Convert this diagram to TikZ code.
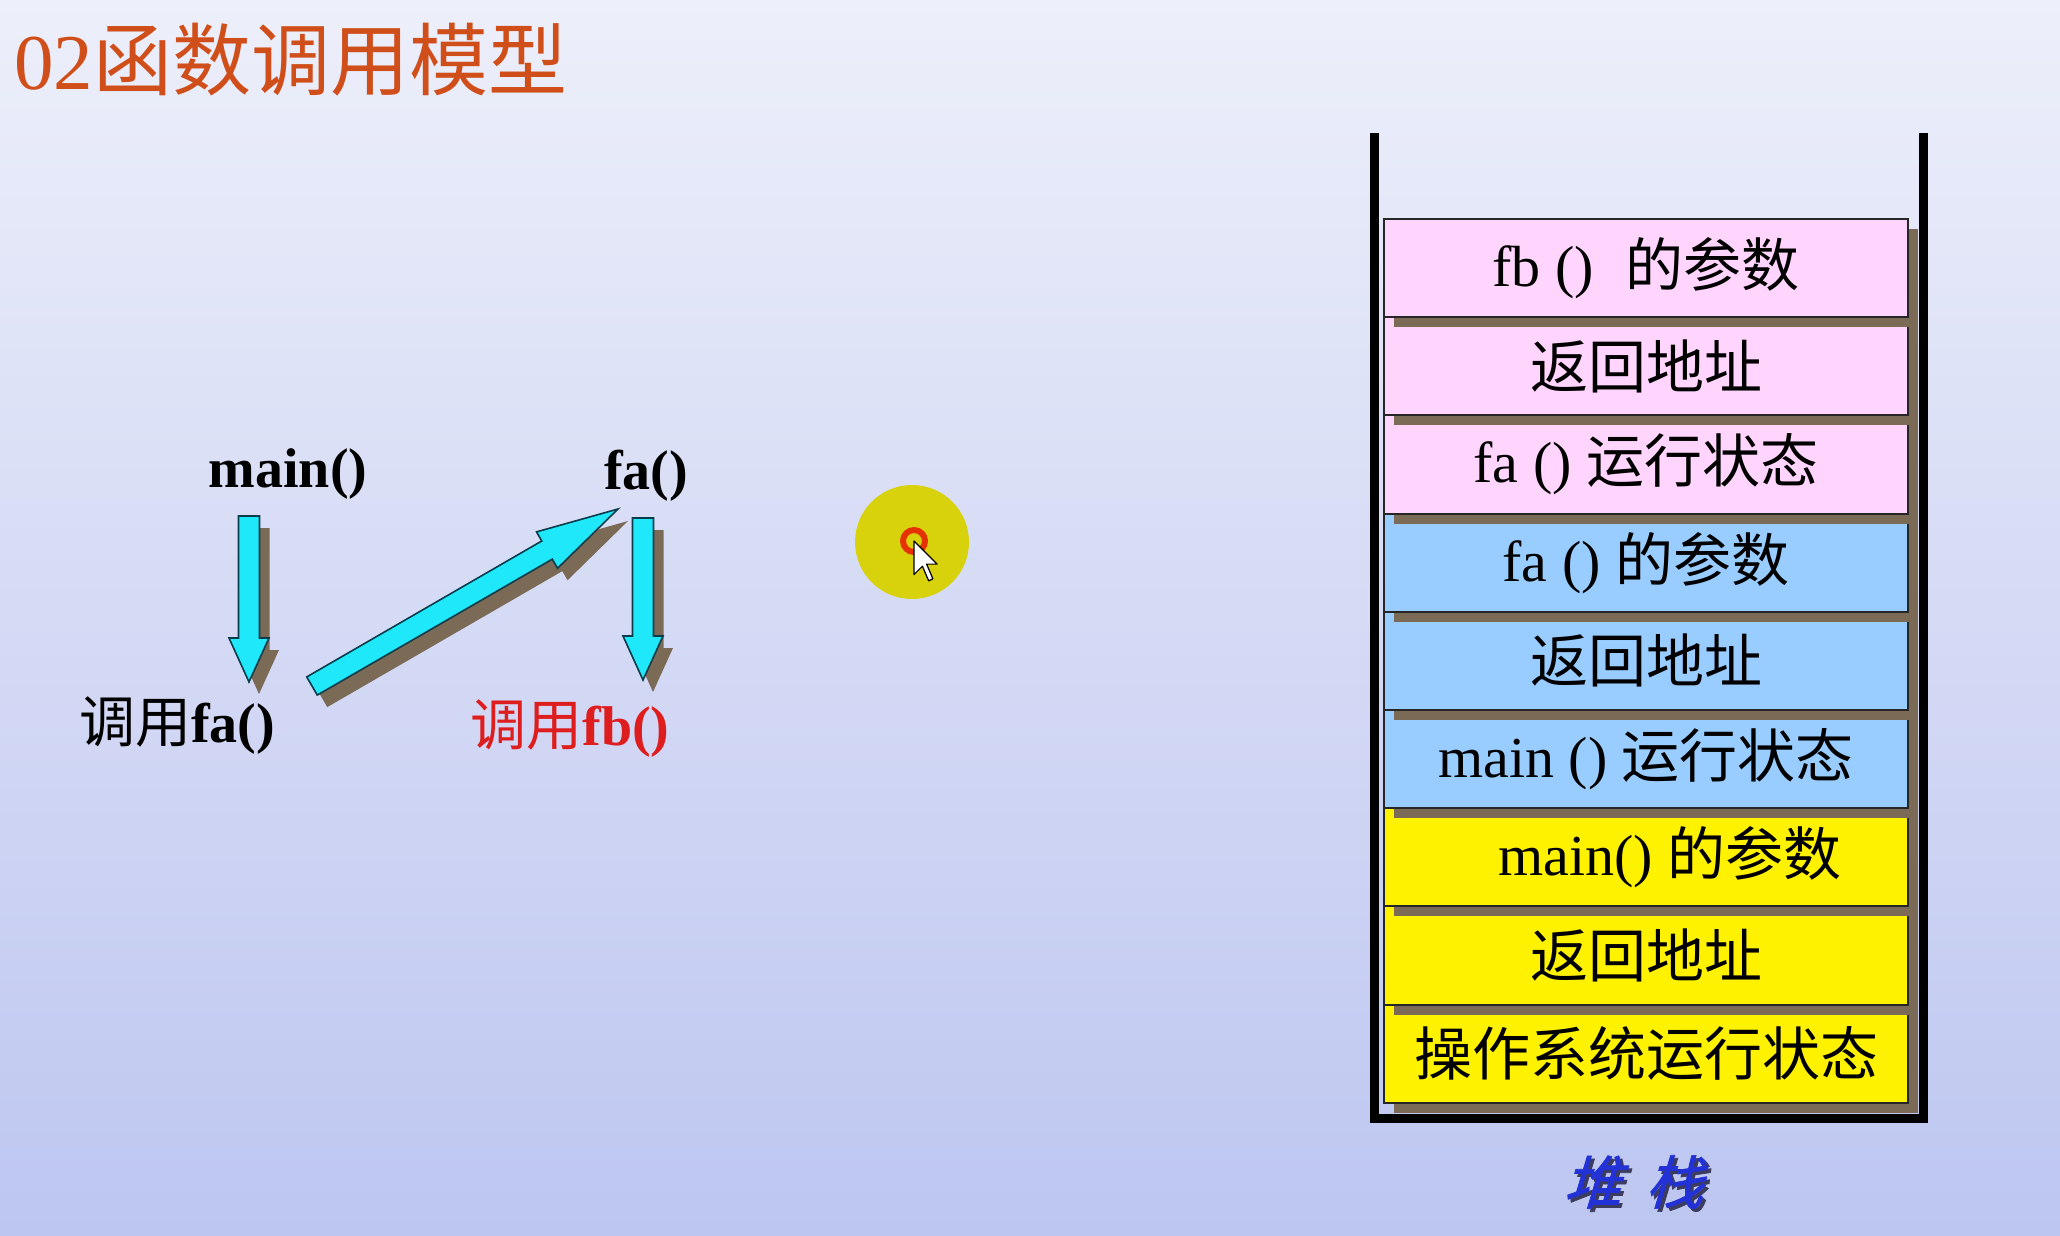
\documentclass[tikz,border=0pt]{standalone}
\usepackage{fontspec}
\setmainfont{Liberation Serif}
\newfontfamily\cjk{Noto Sans CJK SC}
\newfontfamily\cjkit[FakeSlant=0.3,FakeBold=1.2]{Noto Sans CJK SC}
\usetikzlibrary{calc,shadows}

\definecolor{bgtop}{RGB}{237,239,250}
\definecolor{bgbot}{RGB}{189,198,240}
\definecolor{titlec}{RGB}{208,78,26}
\definecolor{pinkc}{RGB}{255,212,253}
\definecolor{bluec}{RGB}{153,204,255}
\definecolor{yelc}{RGB}{255,242,0}
\definecolor{shadc}{RGB}{122,106,86}
\definecolor{cyanc}{RGB}{30,232,250}
\definecolor{arrline}{RGB}{10,60,75}
\definecolor{redc}{RGB}{222,30,30}
\definecolor{stackblue}{RGB}{35,50,215}
\definecolor{stackshad}{RGB}{60,60,95}
\definecolor{dotc}{RGB}{216,210,12}
\definecolor{ringc}{RGB}{230,50,0}

\tikzset{
  stackbox/.style={draw=black!85, line width=2pt, minimum width=524pt,
    minimum height=98.2pt, inner sep=0pt, text=black,
    font=\fontsize{58}{60}\selectfont,
    drop shadow={shadow xshift=10pt, shadow yshift=-10pt, fill=shadc, opacity=1}},
  lbl/.style={inner sep=0pt, font=\fontsize{56}{60}\selectfont, anchor=base},
  wall/.style={line width=9pt, line join=miter, draw=black},
}

\newcommand\blkarrow[5]{%
  \coordinate (hb) at ($(#2)!#5!(#1)$);
  \fill[shadc, transform canvas={xshift=10pt,yshift=-12pt}]
    ($(#1)!#3!90:(#2)$) -- ($(hb)!#3!90:(#2)$) -- ($(hb)!#4!90:(#2)$) -- (#2)
    -- ($(hb)!#4!-90:(#2)$) -- ($(hb)!#3!-90:(#2)$) -- ($(#1)!#3!-90:(#2)$) -- cycle;
  \filldraw[fill=cyanc, draw=arrline, line width=1.6pt, line join=miter]
    ($(#1)!#3!90:(#2)$) -- ($(hb)!#3!90:(#2)$) -- ($(hb)!#4!90:(#2)$) -- (#2)
    -- ($(hb)!#4!-90:(#2)$) -- ($(hb)!#3!-90:(#2)$) -- ($(#1)!#3!-90:(#2)$) -- cycle;
}

\begin{document}
\begin{tikzpicture}[x=1pt, y=-1pt]
\useasboundingbox (0,0) rectangle (2060,1236);
\shade[top color=bgtop, bottom color=bgbot] (0,0) rectangle (2060,1236);

% title
\node[anchor=west, inner sep=0pt, text=titlec, font=\fontsize{79}{84}\selectfont] (title) at (14,60) {02{\cjk 函数调用模型}};

% labels
\node[lbl] (main) at (288,487) {\bfseries main()};
\node[lbl] (fa) at (646,489) {\bfseries fa()};
\node[lbl] (callfa) at (177,742) {{\cjk 调用}\bfseries fa()};
\node[lbl, text=redc] (callfb) at (570,745) {{\cjk 调用}\bfseries fb()};

% arrows
\coordinate (a1s) at (249,516);
\coordinate (a1e) at (249,682);
\coordinate (a2s) at (312,686);
\coordinate (a2e) at (618,509);
\coordinate (a3s) at (643,518);
\coordinate (a3e) at (643,680);
\blkarrow{a1s}{a1e}{10.5pt}{20pt}{44pt}
\blkarrow{a2s}{a2e}{10.5pt}{21pt}{82pt}
\blkarrow{a3s}{a3e}{10.5pt}{20pt}{44pt}

% pointer highlight
\fill[dotc] (912,542) circle (57pt);
\draw[ringc, line width=6pt] (914,541) circle (11pt);
\filldraw[fill=white, draw=black, line width=1.2pt, line join=round]
  (914,541) -- ++(0,33.6) -- ++(8.4,-8.4) -- ++(6.3,14.7) -- ++(4.2,-2.1)
  -- ++(-6.3,-14.7) -- ++(10.5,0) -- cycle;

% stack boxes (bottom first so shadows fall on lower boxes)
\node[stackbox, fill=yelc] (s9) at (1646,1053.7) {\cjk 操作系统运行状态};
\node[stackbox, fill=yelc] (s8) at (1646,955.5) {\cjk 返回地址};
\node[stackbox, fill=yelc] (s7) at (1646,857.3) {\hspace{48pt}main() {\cjk 的参数}};
\node[stackbox, fill=bluec] (s6) at (1646,759.1) {main () {\cjk 运行状态}};
\node[stackbox, fill=bluec] (s5) at (1646,660.9) {\cjk 返回地址};
\node[stackbox, fill=bluec] (s4) at (1646,562.7) {fa () {\cjk 的参数}};
\node[stackbox, fill=pinkc] (s3) at (1646,464.5) {fa () {\cjk 运行状态}};
\node[stackbox, fill=pinkc] (s2) at (1646,366.3) {\cjk 返回地址};
\node[stackbox, fill=pinkc] (s1) at (1646,268.1) {fb ()\hspace{32pt}{\cjk 的参数}};

% stack walls
\draw[wall] (1374,133) -- (1374,1118) -- (1923.5,1118) -- (1923.5,133);

% stack caption
\node[inner sep=0pt, text=stackshad, font=\cjkit\fontsize{58}{60}\selectfont] (stksh) at (1636,1185) {堆\hspace{24pt}栈};
\node[inner sep=0pt, text=stackblue, font=\cjkit\fontsize{58}{60}\selectfont] (stk) at (1633,1182) {堆\hspace{24pt}栈};
\end{tikzpicture}
\end{document}
